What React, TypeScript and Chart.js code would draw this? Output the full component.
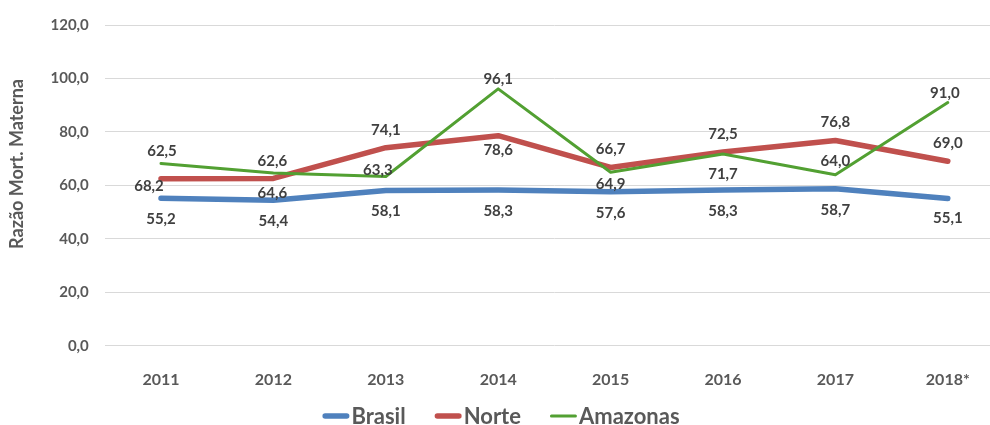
import React, { useEffect, useRef } from "react";
import { Chart, registerables } from "chart.js";

Chart.register(...registerables);

const categories = ["2011", "2012", "2013", "2014", "2015", "2016", "2017", "2018*"];
const brasil = [55.2, 54.4, 58.1, 58.3, 57.6, 58.3, 58.7, 55.1];
const norte = [62.5, 62.6, 74.1, 78.6, 66.7, 72.5, 76.8, 69.0];
const amazonas = [68.2, 64.6, 63.3, 96.1, 64.9, 71.7, 64.0, 91.0];
const yTicks = [0, 20, 40, 60, 80, 100, 120];

// label offsets (pixels) relative to each point
const brasilLabelDx = [0, 0, 0, 0, 0, 0, 0, 0];
const brasilLabelDy = [21, 21, 21, 21, 21, 21, 21, 20];
const norteLabelDx = [1, -1, 0, 0, 0, 0, 0, 0];
const norteLabelDy = [-27.5, -17, -18, 15, -18.5, -18, -18, -18];
const amazonasLabelDx = [-12, -1, -8, 0, 0, 0, 0, -3];
const amazonasLabelDy = [23, 20.5, -6, -10, 12, 20.5, -13.5, -9];

const FONT = "Lato, 'Open Sans', sans-serif";
const fmt = (v: number) => v.toFixed(1).replace(".", ",");

const labelsPlugin = {
  id: "pointLabels",
  afterDatasetsDraw(chart: any) {
    const ctx = chart.ctx;
    const offsets = [
      [brasilLabelDx, brasilLabelDy],
      [norteLabelDx, norteLabelDy],
      [amazonasLabelDx, amazonasLabelDy],
    ];
    ctx.save();
    ctx.font = `bold 15px ${FONT}`;
    ctx.fillStyle = "#404040";
    ctx.textAlign = "center";
    ctx.textBaseline = "middle";
    chart.data.datasets.forEach((ds: any, di: number) => {
      const meta = chart.getDatasetMeta(di);
      meta.data.forEach((pt: any, i: number) => {
        const [dx, dy] = offsets[di];
        ctx.fillText(fmt(ds.data[i]), pt.x + dx[i], pt.y + dy[i]);
      });
    });
    ctx.restore();
  },
};

const decorPlugin = {
  id: "decor",
  afterDraw(chart: any) {
    const ctx = chart.ctx;
    ctx.save();
    // y axis title
    ctx.font = `bold 18px ${FONT}`;
    ctx.fillStyle = "#595959";
    ctx.textAlign = "center";
    ctx.textBaseline = "middle";
    ctx.translate(17, 164);
    ctx.rotate(-Math.PI / 2);
    ctx.fillText("Razão Mort. Materna", 0, 0);
    ctx.restore();

    // legend
    ctx.save();
    ctx.font = `bold 22px ${FONT}`;
    ctx.textBaseline = "middle";
    ctx.textAlign = "left";
    const lineLen = 27;
    const gapLT = 2;
    const gapItems = 29;
    const items = chart.data.datasets.map((ds: any) => ({
      label: ds.label,
      color: ds.borderColor,
      w: ds.borderWidth,
      tw: ctx.measureText(ds.label).width,
    }));
    const total = items.reduce((s: number, it: any) => s + lineLen + gapLT + it.tw, 0) + gapItems * (items.length - 1);
    let x = 501 - total / 2;
    const y = 416;
    items.forEach((it: any) => {
      ctx.strokeStyle = it.color;
      ctx.lineWidth = it.w;
      ctx.lineCap = "round";
      ctx.beginPath();
      ctx.moveTo(x + it.w / 2, y);
      ctx.lineTo(x + lineLen - it.w / 2, y);
      ctx.stroke();
      x += lineLen + gapLT;
      ctx.fillStyle = "#595959";
      ctx.fillText(it.label, x, y + 1);
      x += it.tw + gapItems;
    });
    ctx.restore();
  },
};

export default function App() {
  const ref = useRef<HTMLCanvasElement>(null);
  useEffect(() => {
    if (!ref.current) return;
    const chart = new Chart(ref.current, {
      type: "line",
      data: {
        labels: categories,
        datasets: [
          {
            label: "Brasil",
            data: brasil,
            borderColor: "#4F81BD",
            borderWidth: 5.5,
            order: 2,
          },
          {
            label: "Norte",
            data: norte,
            borderColor: "#C0504D",
            borderWidth: 5.5,
            order: 1,
          },
          {
            label: "Amazonas",
            data: amazonas,
            borderColor: "#52A032",
            borderWidth: 3,
            order: 0,
          },
        ].map((d) => ({
          ...d,
          pointRadius: 0,
          pointHoverRadius: 0,
          tension: 0,
          fill: false,
          borderCapStyle: "round" as const,
          borderJoinStyle: "round" as const,
        })),
      },
      plugins: [labelsPlugin, decorPlugin],
      options: {
        responsive: false,
        animation: false,
        events: [],
        layout: { padding: { top: 22.7, right: 6, left: 0, bottom: 0 } },
        plugins: {
          legend: { display: false },
          tooltip: { enabled: false },
          title: { display: false },
        },
        scales: {
          x: {
            offset: true,
            grid: { display: false },
            border: { display: false },
            ticks: {
              font: { family: FONT, size: 16, weight: "bold" },
              color: "#595959",
              padding: 17,
              maxRotation: 0,
              autoSkip: false,
            },
            afterFit: (scale: any) => {
              scale.height = 79.3;
            },
          },
          y: {
            min: 0,
            max: 120,
            afterBuildTicks: (scale: any) => {
              scale.ticks = yTicks.map((v) => ({ value: v }));
            },
            grid: { color: "#D9D9D9", drawTicks: false, lineWidth: 1 },
            border: { display: false },
            ticks: {
              font: { family: FONT, size: 15, weight: "bold" },
              color: "#595959",
              padding: 16,
              callback: (v: any) => fmt(Number(v)),
            },
            afterFit: (scale: any) => {
              scale.width = 104.8;
            },
          },
        },
      },
    });
    return () => chart.destroy();
  }, []);
  return (
    <div style={{ position: "fixed", left: 0, top: 0, width: 990, height: 425, overflow: "hidden", background: "#fff" }}>
      <canvas ref={ref} width={1010} height={425} style={{ display: "block" }} />
    </div>
  );
}
